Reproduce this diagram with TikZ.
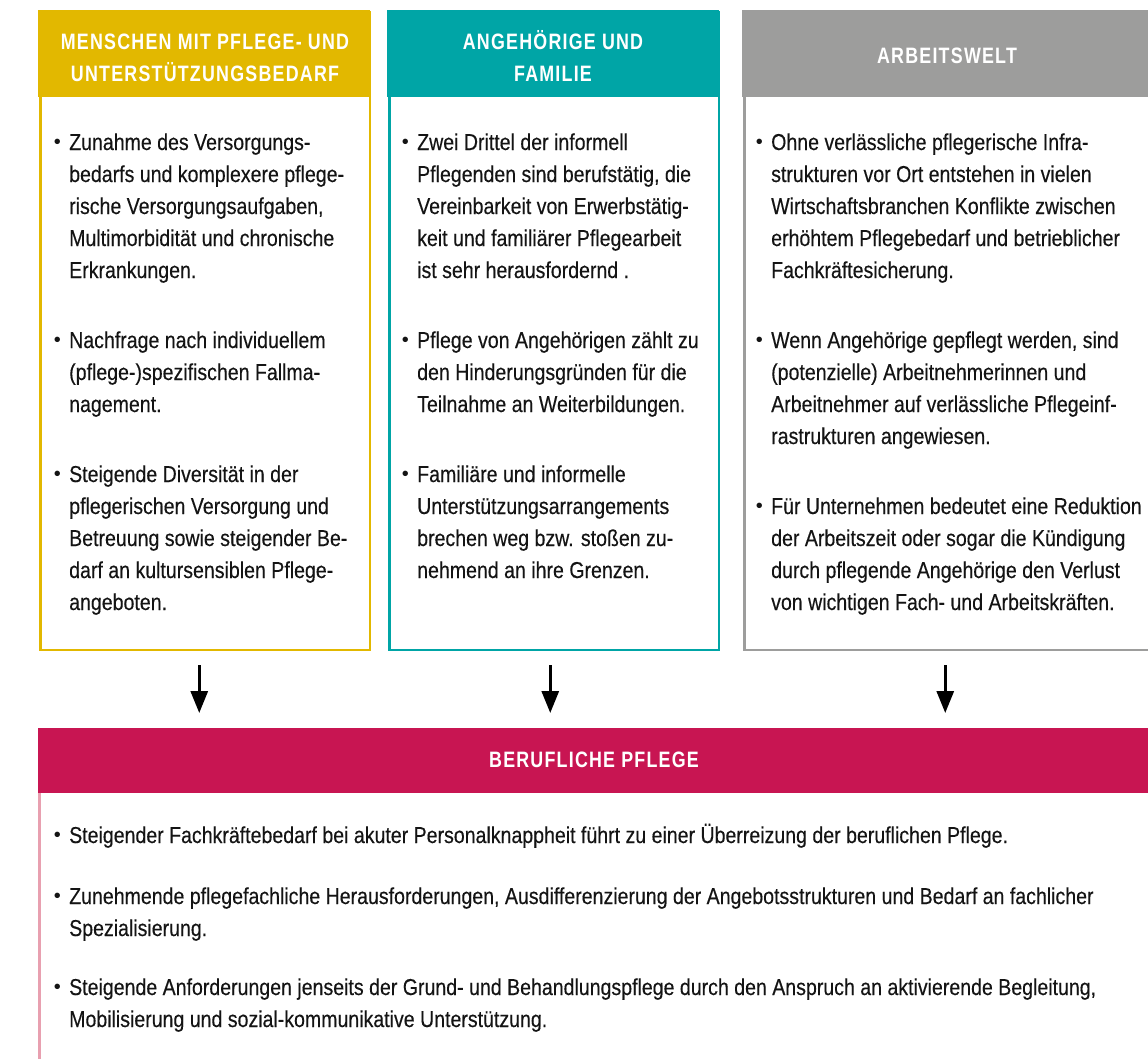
\documentclass[tikz,border=0pt]{standalone}
\usepackage{fontspec}
\usetikzlibrary{arrows.meta}
\newfontfamily\bodyfont{Liberation Sans}[FakeStretch=0.85,FakeBold=0.3]
\newfontfamily\headfont{Liberation Sans}[FakeStretch=0.80,LetterSpace=5.5]
\newfontfamily\bulfont{Liberation Sans}
\definecolor{yel}{HTML}{E2B800}
\definecolor{teal2}{HTML}{00A5A6}
\definecolor{gry}{HTML}{9D9D9C}
\definecolor{crim}{HTML}{C81552}
\definecolor{pinkl}{HTML}{E8A0B0}
\definecolor{txt}{HTML}{141414}
\newcommand\bl{\makebox[0pt][r]{\bulfont\fontsize{20}{20}\selectfont\raisebox{1.4pt}{•}\hspace{8.3pt}}}
\tikzset{
  frame/.style={line width=2.5pt, inner sep=0pt, anchor=north west, fill=white, minimum height=637.5pt},
  headbar/.style={inner sep=0pt, anchor=north west, minimum height=87pt},
  headtxt/.style={text=white, anchor=base, inner sep=0pt, font=\headfont\bfseries\fontsize{22.3}{32}\selectfont},
  itemtxt/.style={anchor=base west, inner sep=0pt, text=txt, font=\bodyfont\fontsize{23}{32}\selectfont},
  arr/.style={line width=3pt, -{Triangle[width=17pt,length=22pt]}, shorten <=14pt, shorten >=15pt}
}
\begin{document}
\begin{tikzpicture}[x=1pt,y=-1pt]
\useasboundingbox (0,0) rectangle (1148,1058);
\clip (0,0) rectangle (1148,1058);
% frames
\node[frame, draw=yel, minimum width=329.5pt] (b1) at (39.25,11.25) {};
\node[frame, draw=teal2, minimum width=329.5pt] (b2) at (388.25,11.25) {};
\node[frame, draw=gry, minimum width=407.5pt] (b3) at (743.25,11.25) {};
% header bars
\node[headbar, fill=yel, minimum width=332pt] (h1) at (38,10) {};
\node[headbar, fill=teal2, minimum width=332pt] (h2) at (387,10) {};
\node[headbar, fill=gry, minimum width=410pt] (h3) at (742,10) {};
\node[inner sep=0pt, anchor=north west, fill=crim, minimum width=1112pt, minimum height=65pt] (bh) at (38,728) {};
% header texts
\node[headtxt] (t1) at (205,49) {\begin{tabular}[t]{@{}c@{}}MENSCHEN MIT PFLEGE- UND\\UNTERSTÜTZUNGSBEDARF\end{tabular}};
\node[headtxt] (t2) at (553,49) {\begin{tabular}[t]{@{}c@{}}ANGEHÖRIGE UND\\FAMILIE\end{tabular}};
\node[headtxt] (t3) at (947,63) {ARBEITSWELT};
\node[headtxt] (t4) at (594,767) {BERUFLICHE PFLEGE};
% bottom left border
\coordinate (bbend) at (39.25,1060);
\draw[pinkl, line width=2.5pt] ([xshift=1.25pt]bh.south west) -- (bbend);
% arrows
\draw[arr] ([xshift=-6pt]b1.south) -- ([xshift=-6pt]b1.south |- bh.north);
\draw[arr] ([xshift=-4pt]b2.south) -- ([xshift=-4pt]b2.south |- bh.north);
\draw[arr] ([xshift=-3pt]b3.south) -- ([xshift=-3pt]b3.south |- bh.north);
% box 1 items
\node[itemtxt] (i11) at (69,150) {\begin{tabular}[t]{@{}l@{}}\bl Zunahme des Versorgungs-\\bedarfs und komplexere pflege-\\rische Versorgungsaufgaben,\\Multimorbidität und chronische\\Erkrankungen.\end{tabular}};
\node[itemtxt] (i12) at (69,348) {\begin{tabular}[t]{@{}l@{}}\bl Nachfrage nach individuellem\\(pflege-)spezifischen Fallma-\\nagement.\end{tabular}};
\node[itemtxt] (i13) at (69,482) {\begin{tabular}[t]{@{}l@{}}\bl Steigende Diversität in der\\pflegerischen Versorgung und\\Betreuung sowie steigender Be-\\darf an kultursensiblen Pflege-\\angeboten.\end{tabular}};
% box 2 items
\node[itemtxt] (i21) at (417,150) {\begin{tabular}[t]{@{}l@{}}\bl Zwei Drittel der informell\\Pflegenden sind berufstätig, die\\Vereinbarkeit von Erwerbstätig-\\keit und familiärer Pflegearbeit\\ist sehr herausfordernd .\end{tabular}};
\node[itemtxt] (i22) at (417,348) {\begin{tabular}[t]{@{}l@{}}\bl Pflege von Angehörigen zählt zu\\den Hinderungsgründen für die\\Teilnahme an Weiterbildungen.\end{tabular}};
\node[itemtxt] (i23) at (417,482) {\begin{tabular}[t]{@{}l@{}}\bl Familiäre und informelle\\Unterstützungsarrangements\\brechen weg bzw. stoßen zu-\\nehmend an ihre Grenzen.\end{tabular}};
% box 3 items
\node[itemtxt] (i31) at (771,150) {\begin{tabular}[t]{@{}l@{}}\bl Ohne verlässliche pflegerische Infra-\\strukturen vor Ort entstehen in vielen\\Wirtschaftsbranchen Konflikte zwischen\\erhöhtem Pflegebedarf und betrieblicher\\Fachkräftesicherung.\end{tabular}};
\node[itemtxt] (i32) at (771,348) {\begin{tabular}[t]{@{}l@{}}\bl Wenn Angehörige gepflegt werden, sind\\(potenzielle) Arbeitnehmerinnen und\\Arbeitnehmer auf verlässliche Pflegeinf-\\rastrukturen angewiesen.\end{tabular}};
\node[itemtxt] (i33) at (771,514) {\begin{tabular}[t]{@{}l@{}}\bl Für Unternehmen bedeutet eine Reduktion\\der Arbeitszeit oder sogar die Kündigung\\durch pflegende Angehörige den Verlust\\von wichtigen Fach- und Arbeitskräften.\end{tabular}};
% bottom items
\node[itemtxt] (i41) at (69,843) {\begin{tabular}[t]{@{}l@{}}\bl Steigender Fachkräftebedarf bei akuter Personalknappheit führt zu einer Überreizung der beruflichen Pflege.\end{tabular}};
\node[itemtxt] (i42) at (69,904) {\begin{tabular}[t]{@{}l@{}}\bl Zunehmende pflegefachliche Herausforderungen, Ausdifferenzierung der Angebotsstrukturen und Bedarf an fachlicher\\Spezialisierung.\end{tabular}};
\node[itemtxt] (i43) at (69,995) {\begin{tabular}[t]{@{}l@{}}\bl Steigende Anforderungen jenseits der Grund- und Behandlungspflege durch den Anspruch an aktivierende Begleitung,\\Mobilisierung und sozial-kommunikative Unterstützung.\end{tabular}};
\end{tikzpicture}
\end{document}
